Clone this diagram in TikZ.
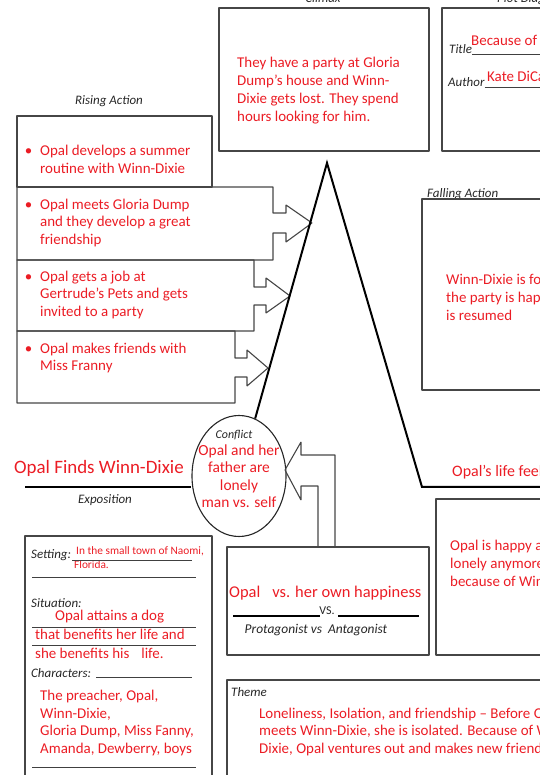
\documentclass[tikz,border=0pt]{standalone}
\usepackage{fontspec}
\setmainfont{Carlito}
\usetikzlibrary{shapes.geometric}
\definecolor{ink}{RGB}{235,28,36}
\definecolor{frame}{RGB}{70,70,70}

\begin{document}
\begin{tikzpicture}[>=latex,line join=bevel,
  txt/.style={text=ink,font=\fontsize{15}{18}\selectfont,align=left,inner sep=0pt},
  lbl/.style={text=black!85,font=\fontsize{13}{15}\selectfont\itshape,inner sep=0pt},
  frm/.style={draw=frame,line width=1.1bp},
  rule/.style={draw=black!75,line width=0.9bp},
  ]
\useasboundingbox (0bp,0bp) rectangle (540bp,775bp);
\clip (0bp,0bp) rectangle (540bp,775bp);
%%
\node (climax_lbl) at (323bp,772bp) [lbl,anchor=base] {Climax};
\node (plot_lbl) at (497bp,772bp) [lbl,anchor=base west] {Plot Diagram};
\node (climax_box) at (324bp,695.5bp) [frm,minimum width=210bp,minimum height=143bp,inner sep=0pt] {};
\node (climax_txt) at (237bp,684bp) [txt,anchor=west] {They have a party at Gloria\\Dump’s house and Winn-\\Dixie gets lost. They spend\\hours looking for him.};
%
\node (title_box) at (501bp,695.5bp) [frm,minimum width=118bp,minimum height=143bp,inner sep=0pt] {};
\node (title_lbl) at (449bp,721bp) [lbl,anchor=base west] {Title};
\node (title_txt) at (471bp,729bp) [txt,anchor=base west] {Because of Winn-Dixie};
\draw [rule] (title_lbl.base east) -- ++(90bp,0);
\node (author_lbl) at (448bp,688bp) [lbl,anchor=base west] {Author};
\node (author_txt) at (487bp,693bp) [txt,anchor=base west] {Kate DiCamillo};
\draw [rule] (author_lbl.base east) -- ++(80bp,0);
%
\node (rise_lbl) at (109bp,674bp) [lbl] {Rising Action};
\draw [frm] (17bp,659bp) rectangle (212bp,588bp);
\draw [frm] (17bp,588bp) -- (273bp,588bp) -- (273bp,562bp) -- (286bp,562bp) -- (286bp,570bp) -- (312bp,552bp)
  -- (286bp,533bp) -- (286bp,542bp) -- (273bp,542bp) -- (273bp,515bp) -- (17bp,515bp) -- cycle;
\draw [frm] (17bp,515bp) -- (254bp,515bp) -- (254bp,488bp) -- (266bp,488bp) -- (266bp,497bp) -- (290bp,479bp)
  -- (266bp,462bp) -- (266bp,470bp) -- (254bp,470bp) -- (254bp,444bp) -- (17bp,444bp) -- cycle;
\draw [frm] (17bp,444bp) -- (235bp,444bp) -- (235bp,417bp) -- (247bp,417bp) -- (247bp,425bp) -- (268bp,407bp)
  -- (247bp,389bp) -- (247bp,398bp) -- (235bp,398bp) -- (235bp,372bp) -- (17bp,372bp) -- cycle;
\node (rise_1) at (40bp,616bp) [txt,anchor=west] {\llap{\textbullet\hspace{8bp}}Opal develops a summer\\routine with Winn-Dixie};
\node (rise_2) at (40bp,552bp) [txt,anchor=west] {\llap{\textbullet\hspace{8bp}}Opal meets Gloria Dump\\and they develop a great\\friendship};
\node (rise_3) at (40bp,480bp) [txt,anchor=west] {\llap{\textbullet\hspace{8bp}}Opal gets a job at\\Gertrude’s Pets and gets\\invited to a party};
\node (rise_4) at (40bp,417bp) [txt,anchor=west] {\llap{\textbullet\hspace{8bp}}Opal makes friends with\\Miss Franny};
%
\node (fall_lbl) at (427bp,581bp) [lbl,anchor=west] {Falling Action};
\node (fall_box) at (491bp,480.5bp) [frm,minimum width=138bp,minimum height=191bp,inner sep=0pt] {};
\node (fall_txt) at (446bp,478bp) [txt,anchor=west] {Winn-Dixie is found and\\the party is happy again\\is resumed};
%
\node (conflict) at (239bp,299bp) [ellipse,draw=black!85,line width=1.1bp,minimum width=94bp,minimum height=121bp,inner sep=0pt] {};
\node (conflict_lbl) at (234bp,340bp) [lbl,font=\fontsize{12}{14}\selectfont\itshape] {Conflict};
\node (conflict_txt) at (239bp,299bp) [txt,align=center,font=\fontsize{15.5}{17.5}\selectfont] {Opal and her\\father are\\lonely\\man vs. self};
\coordinate (apex) at (327bp,612bp);
\coordinate (fall_end) at (422bp,288bp);
\coordinate (res_end) at (545bp,288bp);
\draw [line width=2bp,line join=miter] (conflict) -- (apex) -- (fall_end) -- (res_end);
\coordinate (expo_start) at (25bp,288bp);
\draw [line width=2.4bp] (expo_start) -- (expo_start -| conflict.west);
\node (expo_txt) at (99bp,307bp) [txt,font=\fontsize{19}{22}\selectfont] {Opal Finds Winn-Dixie};
\node (expo_lbl) at (105bp,275bp) [lbl] {Exposition};
\node (res_txt) at (452bp,303bp) [txt,anchor=west,font=\fontsize{16}{18}\selectfont] {Opal’s life feels complete};
%
\node (res_box) at (498bp,198bp) [frm,minimum width=124bp,minimum height=156bp,inner sep=0pt] {};
\node (res_body) at (450bp,212bp) [txt,anchor=west] {Opal is happy and not\\lonely anymore\\because of Winn-Dixie};
%
\node (vs_box) at (328bp,174bp) [frm,minimum width=202bp,minimum height=108bp,inner sep=0pt] {};
\draw [frm] (335bp,228bp) -- (335bp,320bp) -- (301bp,320bp) -- (301bp,333bp) -- (285bp,305bp)
  -- (301bp,275bp) -- (301bp,289bp) -- (318bp,289bp) -- (318bp,228bp);
\node (vs_txt) at (229bp,182bp) [txt,anchor=west,font=\fontsize{16.5}{18}\selectfont] {Opal\hspace{12bp}vs. her own happiness};
\node (vs_mid) at (327bp,164bp) [lbl,font=\fontsize{12}{14}\selectfont] {VS.};
\draw [draw=black,line width=1.3bp] (233bp,159bp) -- (320bp,159bp);
\draw [draw=black,line width=1.3bp] (338bp,159bp) -- (419bp,159bp);
\node (vs_lbl) at (316bp,145bp) [lbl,font=\fontsize{13.5}{15}\selectfont\itshape] {Protagonist vs\hspace{6bp}Antagonist};
%
\node (setting_box) at (118.5bp,109.5bp) [frm,minimum width=187bp,minimum height=259bp,inner sep=0pt] {};
\node (setting_lbl) at (31bp,220bp) [lbl,anchor=west] {Setting:};
\node (setting_txt) at (76bp,224bp) [txt,anchor=west,font=\fontsize{11.4}{13}\selectfont] {In the small town of Naomi,};
\node (setting_txt2) at (74bp,210bp) [txt,anchor=west,font=\fontsize{11.4}{13}\selectfont] {Florida.};
\draw [rule] (72bp,215bp) -- (192bp,215bp);
\draw [rule] (32bp,198bp) -- (196bp,198bp);
\node (sit_lbl) at (31bp,172bp) [lbl,anchor=west] {Situation:};
\node (sit_1) at (55bp,158bp) [txt,anchor=west] {Opal attains a dog};
\draw [rule] (32bp,148bp) -- (196bp,148bp);
\node (sit_2) at (35bp,141bp) [txt,anchor=west] {that benefits her life and};
\draw [rule] (32bp,130bp) -- (196bp,130bp);
\node (sit_3) at (35bp,122bp) [txt,anchor=west] {she benefits his\hspace{12bp}life.};
\node (char_lbl) at (31bp,102bp) [lbl,anchor=west] {Characters:};
\draw [rule] (96bp,98bp) -- (192bp,98bp);
\node (char_txt) at (40bp,52bp) [txt,anchor=west] {The preacher, Opal,\\Winn-Dixie,\\Gloria Dump, Miss Fanny,\\Amanda, Dewberry, boys};
\draw [rule] (32bp,8bp) -- (196bp,8bp);
%
\node (theme_box) at (393.5bp,37.5bp) [frm,minimum width=333bp,minimum height=115bp,inner sep=0pt] {};
\node (theme_lbl) at (231bp,83bp) [lbl,anchor=west] {Theme};
\node (theme_txt) at (259bp,43bp) [txt,anchor=west] {Loneliness, Isolation, and friendship -- Before Opal\\meets Winn-Dixie, she is isolated. Because of Winn-\\Dixie, Opal ventures out and makes new friends.};
%
\end{tikzpicture}
\end{document}
